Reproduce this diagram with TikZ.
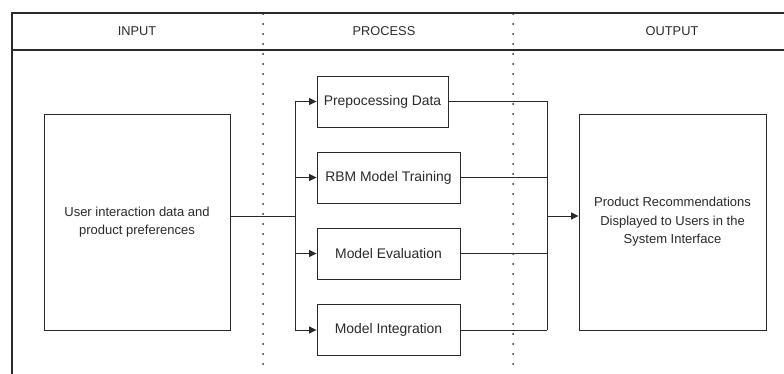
\documentclass[tikz,border=0pt]{standalone}
\usepackage{fontspec}
\setmainfont{Liberation Sans}
\usetikzlibrary{arrows.meta}
\definecolor{ink}{HTML}{2A2A2A}
\tikzset{
  box/.style={draw=ink, line width=0.9pt, fill=white, text=ink, align=center, inner sep=2pt,
    font=\fontsize{13}{18.5}\selectfont},
  pbox/.style={box, font=\fontsize{13.9}{17}\selectfont, minimum height=51pt},
  head/.style={text=ink, font=\fontsize{12.8}{15}\selectfont},
  frame/.style={draw=ink, line width=1.1pt},
  sep/.style={draw=ink, line width=2pt, line cap=round, dash pattern=on 0pt off 10pt},
  conn/.style={draw=ink, line width=0.9pt},
  arr/.style={conn, -{Triangle[length=7.5pt,width=7pt]}}
}
\begin{document}
\begin{tikzpicture}[x=1pt,y=-1pt]
\useasboundingbox (0,0) rectangle (784,374);
% frame
\coordinate (ftl) at (12,13);
\coordinate (ftr) at (784,13);
\coordinate (fbl) at (12,374);
\coordinate (hl) at (12,50);
\coordinate (hr) at (784,50);
\draw[frame] (fbl) -- (ftl) -- (ftr);
\draw[frame] (hl) -- (hr);
% separators
\coordinate (s1t) at (263,14);
\coordinate (s1b) at (263,374);
\coordinate (s2t) at (513,14);
\coordinate (s2b) at (513,374);
\draw[sep] (s1t) -- (s1b);
\draw[sep] (s2t) -- (s2b);
% headers
\node[head] (hin) at (137,31) {INPUT};
\node[head] (hpr) at (384,31) {PROCESS};
\node[head] (hout) at (672,31) {OUTPUT};
% boxes
\node[box, minimum width=186pt, minimum height=216pt] (in) at (137,222) {User interaction data and\\product preferences};
\node[pbox, minimum width=131pt] (p1) at (382.5,101.5) {Prepocessing Data};
\node[pbox, minimum width=143pt] (p2) at (388.5,177.5) {RBM Model Training};
\node[pbox, minimum width=143pt] (p3) at (388.5,253.5) {Model Evaluation};
\node[pbox, minimum width=143pt] (p4) at (388.5,330) {Model Integration};
\node[box, minimum width=187pt, minimum height=216pt] (out) at (672.5,222) {Product Recommendations\\Displayed to Users in the\\System Interface};
% connectors
\coordinate (bl) at (295,216);
\coordinate (mr) at (547,216);
\draw[conn] (in.east |- bl) -- (bl);
\draw[conn] (p1.west -| bl) -- (p4.west -| bl);
\draw[arr] (p1.west -| bl) -- (p1.west);
\draw[arr] (p2.west -| bl) -- (p2.west);
\draw[arr] (p3.west -| bl) -- (p3.west);
\draw[arr] (p4.west -| bl) -- (p4.west);
\draw[conn] (p1.east) -- (p1.east -| mr);
\draw[conn] (p2.east) -- (p2.east -| mr);
\draw[conn] (p3.east) -- (p3.east -| mr);
\draw[conn] (p4.east) -- (p4.east -| mr);
\draw[conn] (p1.east -| mr) -- (p4.east -| mr);
\draw[arr] (mr) -- (out.west |- mr);
\end{tikzpicture}
\end{document}
